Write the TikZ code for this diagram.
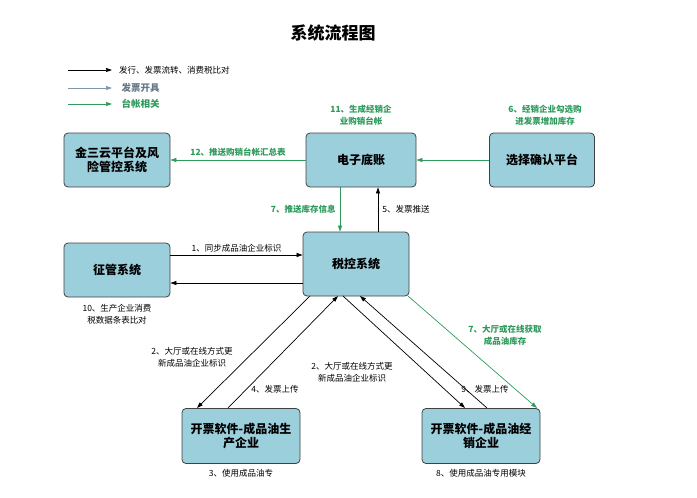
\documentclass[tikz,border=0pt]{standalone}
\usepackage{fontspec}
\setmainfont{Noto Sans CJK SC}
\usetikzlibrary{arrows.meta}
\definecolor{boxfill}{HTML}{9CCFDC}
\definecolor{gr}{HTML}{2E9A5C}
\definecolor{gy}{HTML}{7F97A8}
\begin{document}
\begin{tikzpicture}[x=1pt,y=-1pt,
 box/.style={draw=black!75,fill=boxfill,rounded corners=4pt,line width=0.8pt,font=\bfseries\fontsize{12}{14}\selectfont,align=center,inner sep=2pt},
 blk/.style={-{Triangle[length=6pt,width=4pt]},line width=0.7pt},
 grn/.style={blk,draw=gr,color=gr},
 gry/.style={blk,draw=gy,color=gy},
 lab/.style={font=\fontsize{8.5}{12}\selectfont,align=center,inner sep=1pt},
 glab/.style={lab,text=gr,font=\bfseries\fontsize{8.5}{12}\selectfont}]
\useasboundingbox (0,0) rectangle (697,498);
\node[font=\bfseries\fontsize{17}{20}\selectfont] (title) at (333,33) {系统流程图};
\coordinate (l1a) at (68,70); \coordinate (l1b) at (112,70);
\coordinate (l2a) at (68,88); \coordinate (l2b) at (112,88);
\coordinate (l3a) at (68,104); \coordinate (l3b) at (112,104);
\draw[blk] (l1a) -- (l1b); \draw[gry] (l2a) -- (l2b); \draw[grn] (l3a) -- (l3b);
\node[lab,anchor=west] (t1) at (118,70) {发行、发票流转、消费税比对};
\node[anchor=west,text=gy!80!black,font=\bfseries\fontsize{9.5}{11}\selectfont] (t2) at (118,88) {发票开具};
\node[anchor=west,text=gr,font=\bfseries\fontsize{9.5}{11}\selectfont] (t3) at (118,104) {台帐相关};
\node[box,minimum width=106pt,minimum height=54pt] (jsy) at (117,160) {金三云平台及风\\险管控系统};
\node[box,minimum width=110pt,minimum height=54pt] (dz) at (361,160) {电子底账};
\node[box,minimum width=105pt,minimum height=54pt] (xz) at (542,160) {选择确认平台};
\node[box,minimum width=106pt,minimum height=54pt] (zg) at (117,270) {征管系统};
\node[box,minimum width=106pt,minimum height=64pt] (sk) at (356,264) {税控系统};
\node[box,minimum width=118pt,minimum height=55pt] (sc) at (241,436) {开票软件-成品油生\\产企业};
\node[box,minimum width=118pt,minimum height=55pt] (jx) at (481,436) {开票软件-成品油经\\销企业};
\draw[grn] (dz.west) -- node[glab,above=2pt]{12、推送购销台帐汇总表} (jsy.east);
\draw[grn] (xz.west) -- (dz.east);
\node[glab] (l11) at (361,115) {11、生成经销企\\业购销台帐};
\node[glab] (l6) at (545,115) {6、经销企业勾选购\\进发票增加库存};
\draw[grn] (dz.south -| 340,0) -- node[glab,left=3pt]{7、推送库存信息} (sk.north -| 340,0);
\draw[blk] (sk.north -| 378,0) -- node[lab,right=3pt]{5、发票推送} (dz.south -| 378,0);
\draw[blk] (zg.east |- 0,255) -- node[lab,above=1pt]{1、同步成品油企业标识} (sk.west |- 0,255);
\draw[blk] (sk.west |- 0,283) -- (zg.east |- 0,283);
\node[lab] (l10) at (117,314) {10、生产企业消费\\税数据条表比对};
\coordinate (a1) at (310,296); \coordinate (a2) at (197,408);
\coordinate (b1) at (228,408); \coordinate (b2) at (338,296);
\coordinate (c1) at (343,296); \coordinate (c2) at (465,408);
\coordinate (d1) at (487,408); \coordinate (d2) at (360,296);
\coordinate (e1) at (408,296); \coordinate (e2) at (537,408);
\draw[blk] (a1) -- (a2); \draw[blk] (b1) -- (b2);
\draw[blk] (c1) -- (c2); \draw[blk] (d1) -- (d2);
\draw[grn] (e1) -- (e2);
\node[lab] (l2a) at (192,357) {2、大厅或在线方式更\\新成品油企业标识};
\node[lab] (l2b) at (352,372) {2、大厅或在线方式更\\新成品油企业标识};
\node[lab] (l4) at (275,389) {4、发票上传};
\node[lab] (l9) at (485,389) {9、发票上传};
\node[glab] (l7b) at (505,335) {7、大厅或在线获取\\成品油库存};
\node[lab,anchor=north] (l3) at (241,468) {3、使用成品油专};
\node[lab,anchor=north] (l8) at (481,468) {8、使用成品油专用模块};
\end{tikzpicture}
\end{document}
